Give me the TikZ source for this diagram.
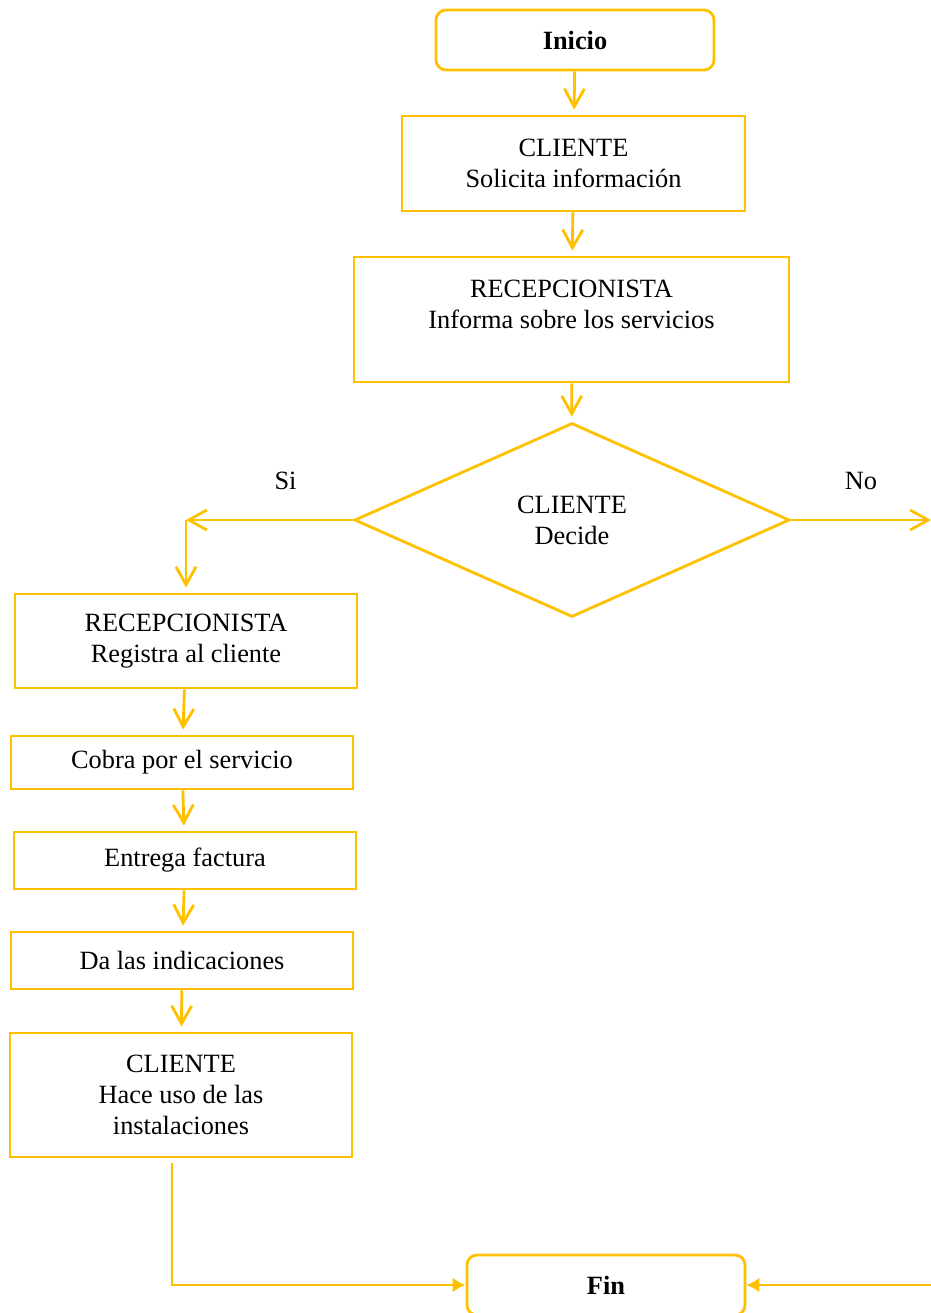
\documentclass[tikz,border=0pt]{standalone}
\usepackage{fontspec}
\setmainfont{Liberation Serif}
\usetikzlibrary{shapes.geometric, arrows.meta}
\definecolor{oro}{RGB}{255, 192, 0}
\newcommand{\letra}{\fontsize{15}{17.6}\selectfont}
\tikzstyle{terminal} = [rectangle, rounded corners=0.2cm, minimum width=5.56cm, minimum height=1.2cm, text centered, draw=oro, line width=1.6pt, font=\letra\bfseries]
\tikzstyle{proceso} = [rectangle, minimum width=6.84cm, text centered, align=center, draw=oro, line width=1.6pt]
\tikzstyle{decision} = [diamond, minimum width=8.7cm, minimum height=3.88cm, inner sep=0pt, align=center, draw=oro, line width=1.6pt]
\tikzstyle{flecha} = [draw=oro, line width=1.6pt, -{Straight Barb[length=3.6mm,width=4mm]}, shorten >=0.1cm]
\tikzstyle{flechallena} = [draw=oro, line width=1.6pt, -{Latex[length=2.6mm,width=3mm]}]

\begin{document}
\begin{tikzpicture}[font=\letra]
\useasboundingbox (0,0) rectangle (18.62,-26.26);

\node (inicio) [terminal] at (11.5,-0.8) {Inicio};
\node (solicita) [proceso, minimum width=6.86cm, minimum height=1.9cm] at (11.47,-3.27) {CLIENTE\\Solicita información};
\node (informa) [proceso, minimum width=8.7cm, minimum height=2.5cm] at (11.43,-6.39) {RECEPCIONISTA\\Informa sobre los servicios\\[-0.2cm]\strut};
\node (decide) [decision] at (11.44,-10.4) {CLIENTE\\Decide};
\coordinate (siEsq) at (3.72,-10.4);
\coordinate (noFin) at (18.62,-10.4);
\node (registra) [proceso, minimum height=1.88cm] at (3.72,-12.82) {RECEPCIONISTA\\Registra al cliente};
\node (cobra) [proceso, minimum height=1.06cm] at (3.64,-15.25) {Cobra por el servicio};
\node (entrega) [proceso, minimum height=1.14cm] at (3.70,-17.21) {Entrega factura};
\node (indica) [proceso, minimum height=1.14cm] at (3.64,-19.21) {Da las indicaciones};
\node (haceuso) [proceso, minimum height=2.48cm] at (3.62,-21.9) {CLIENTE\\Hace uso de las\\instalaciones};
\node (fin) [terminal] at (12.12,-25.7) {Fin};
\coordinate (finEntra) at (18.62,-25.7);

% Flechas
\draw [flecha] (inicio) -- (solicita);
\draw [flecha] (solicita) -- (informa);
\draw [flecha] (informa) -- (decide);
\draw [flecha, shorten >=0pt] (decide.west) -- node[midway, yshift=0.78cm, xshift=0.32cm] {Si} (siEsq);
\draw [flecha] (siEsq) -- (registra);
\draw [flecha, shorten >=0pt] (decide.east) -- node[midway, yshift=0.78cm] {No} (noFin);
\draw [flecha] (registra) -- (cobra);
\draw [flecha] (cobra) -- (entrega);
\draw [flecha] (entrega) -- (indica);
\draw [flecha] (indica) -- (haceuso);
\draw [flechallena] ([xshift=-0.18cm, yshift=-0.1cm]haceuso.south) |- (fin.west);
\draw [flechallena] (finEntra) -- (fin.east);

\end{tikzpicture}
\end{document}
